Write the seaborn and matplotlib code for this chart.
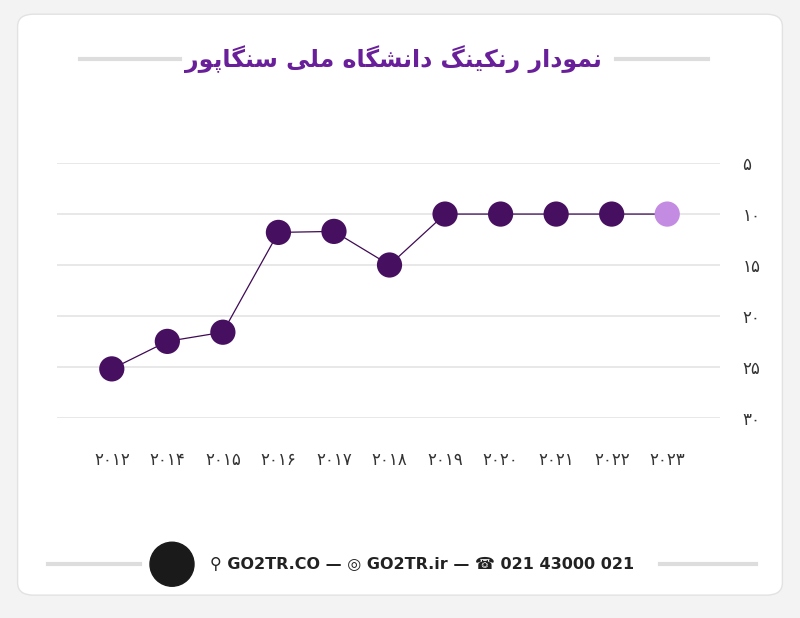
import unicodedata
import matplotlib
matplotlib.use("Agg")
import matplotlib.pyplot as plt
from matplotlib.patches import FancyBboxPatch, Ellipse
import seaborn as sns
import pandas as pd

years = ["2012", "2014", "2015", "2016", "2017", "2018", "2019", "2020", "2021", "2022", "2023"]
ranks = [25.2, 22.5, 21.6, 11.8, 11.7, 15.0, 10.0, 10.0, 10.0, 10.0, 10.0]
yticks = [5, 10, 15, 20, 25, 30]
title = "نمودار رنکینگ دانشگاه ملی سنگاپور"

RIGHT_JOIN = set("اآدذرزژو")
def shape(text):
    out = []
    for word in text.split(" "):
        chars = list(word)
        forms = []
        for i, c in enumerate(chars):
            prev_j = i > 0 and chars[i-1] not in RIGHT_JOIN
            next_j = i < len(chars) - 1
            can_left = c not in RIGHT_JOIN
            if prev_j and next_j and can_left: f = "MEDIAL"
            elif prev_j: f = "FINAL"
            elif next_j and can_left: f = "INITIAL"
            else: f = "ISOLATED"
            try:
                forms.append(unicodedata.lookup(unicodedata.name(c) + " " + f + " FORM"))
            except KeyError:
                forms.append(c)
        out.append("".join(forms)[::-1])
    return " ".join(out[::-1])

def fa_digits(s):
    return "".join(chr(0x06F0 + int(d)) if d.isdigit() else d for d in str(s))

df = pd.DataFrame({"year": years, "rank": ranks, "x": range(len(years))})
df["grp"] = ["a"] * (len(years) - 1) + ["b"]

fig = plt.figure(figsize=(8, 6.18), dpi=100)
fig.patch.set_facecolor("#f3f3f3")
card = FancyBboxPatch((0.022, 0.037), 0.956, 0.94, boxstyle="round,pad=0,rounding_size=0.02",
                      transform=fig.transFigure, facecolor="white", edgecolor="#e2e2e2", lw=1, zorder=-10)
fig.patches.append(card)

ax = fig.add_axes([0.071, 0.324, 0.829, 0.412])
ax.set_facecolor("none")
sns.lineplot(data=df, x="x", y="rank", ax=ax, color="#3f0a55", lw=0.9)
sns.scatterplot(data=df, x="x", y="rank", hue="grp", palette={"a": "#470f5f", "b": "#c48be3"},
                s=330, edgecolor="none", legend=False, ax=ax, zorder=3, clip_on=False)
ax.set_xlim(-0.99, 10.95)
ax.set_ylim(30, 5)
ax.set_yticks(yticks)
ax.yaxis.tick_right()
ax.set_yticklabels([fa_digits(v) for v in yticks], fontsize=12, color="#333333")
ax.set_xticks(range(len(years)))
ax.set_xticklabels([fa_digits(y) for y in years], fontsize=12, color="#333333")
ax.tick_params(axis="both", length=0)
ax.tick_params(axis="x", pad=24)
ax.tick_params(axis="y", pad=16)
ax.grid(axis="y", color="#e4e4e4", lw=1.2)
ax.grid(axis="x", visible=False)
for s in ax.spines.values():
    s.set_visible(False)
ax.set_xlabel(""); ax.set_ylabel("")

fig.text(0.492, 0.905, shape(title), ha="center", va="center", fontsize=17, fontweight="bold",
         color="#6a1f9a", family="DejaVu Sans")
fig.add_artist(plt.Line2D([0.1, 0.225], [0.905, 0.905], color="#dddddd", lw=3, transform=fig.transFigure))
fig.add_artist(plt.Line2D([0.77, 0.885], [0.905, 0.905], color="#dddddd", lw=3, transform=fig.transFigure))

fy = 0.087
fig.add_artist(plt.Line2D([0.06, 0.175], [fy, fy], color="#dddddd", lw=3, transform=fig.transFigure))
fig.add_artist(plt.Line2D([0.825, 0.945], [fy, fy], color="#dddddd", lw=3, transform=fig.transFigure))
fig.add_artist(Ellipse((0.215, fy), 0.055, 0.055 * 800 / 618, transform=fig.transFigure, color="#1a1a1a"))
fig.text(0.262, fy, "⚲ GO2TR.CO — ◎ GO2TR.ir — ☎ 021 43000 021", ha="left", va="center",
         fontsize=11.5, fontweight="bold", color="#222222")

fig.savefig("out.png", dpi=100, facecolor=fig.get_facecolor())
